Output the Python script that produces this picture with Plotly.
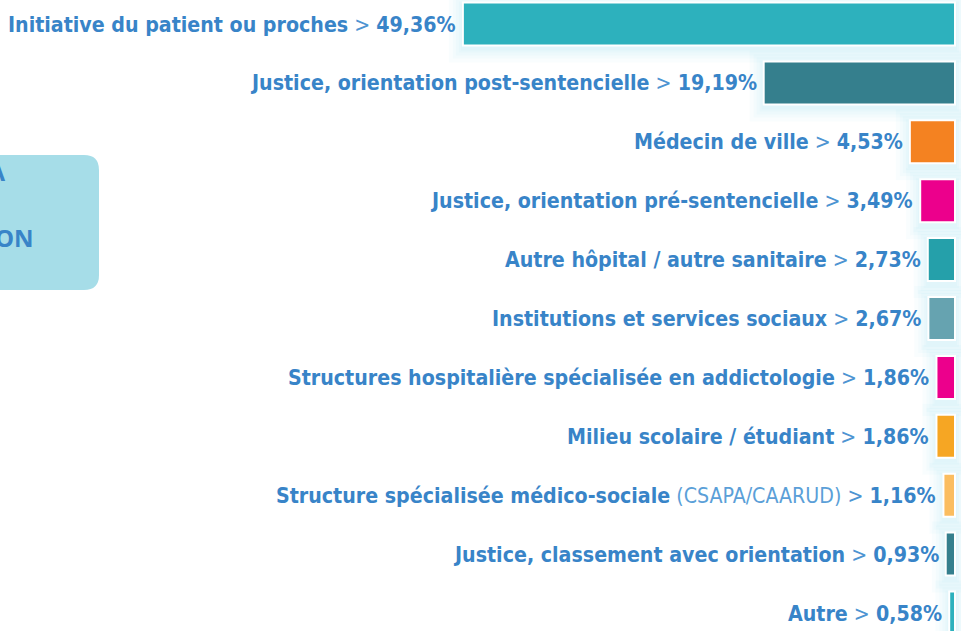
import plotly.graph_objects as go

categories = [
    "Initiative du patient ou proches",
    "Justice, orientation post-sentencielle",
    "Médecin de ville",
    "Justice, orientation pré-sentencielle",
    "Autre hôpital / autre sanitaire",
    "Institutions et services sociaux",
    "Structures hospitalière spécialisée en addictologie",
    "Milieu scolaire / étudiant",
    "Structure spécialisée médico-sociale",
    "Justice, classement avec orientation",
    "Autre",
]
notes = ["", "", "", "", "", "", "", "", "(CSAPA/CAARUD)", "", ""]
values = [49.36, 19.19, 4.53, 3.49, 2.73, 2.67, 1.86, 1.86, 1.16, 0.93, 0.58]
colors = ["#2db1bd", "#357f8d", "#f48221", "#ec008c", "#25a0aa", "#66a3b0",
          "#ec008c", "#f6a623", "#fbbd60", "#357f8d", "#2db1bd"]

W, H = 961, 631
PX_PER_UNIT = 9.97      # horizontal pixels per percent
ROW_PX = 58.9           # vertical pixels per category
BAR_W = 0.73
ZERO_PX = 955
TOP_PX = 24

x_range = [ZERO_PX / PX_PER_UNIT, -(W - ZERO_PX) / PX_PER_UNIT]
y_range = [(H - TOP_PX) / ROW_PX, -TOP_PX / ROW_PX]

TEXT = "#3884c8"
FONT = "'DejaVu Sans Condensed', 'Roboto Condensed', 'Liberation Sans Narrow', Roboto, sans-serif"

fig = go.Figure()

# soft cyan glow behind bars
for d in [14, 10, 7, 4, 2]:
    dx = d / PX_PER_UNIT
    dy = d / ROW_PX
    fig.add_trace(go.Bar(
        y=categories, x=[v + 2 * dx for v in values], base=-dx,
        orientation="h", width=BAR_W + 2 * dy,
        offset=-(BAR_W + 2 * dy) / 2 + 3 / ROW_PX,
        marker=dict(color="rgba(90,200,220,0.04)", line=dict(width=0)),
        hoverinfo="skip", showlegend=False,
    ))

fig.add_trace(go.Bar(
    y=categories, x=values, orientation="h", width=BAR_W,
    marker=dict(color=colors, line=dict(color="white", width=2)),
    showlegend=False,
))

annotations = []
for cat, note, v in zip(categories, notes, values):
    vs = f"{v:.2f}".replace(".", ",") + "%"
    txt = f"<b>{cat}</b>"
    if note:
        txt += f" <span style='font-weight:300;color:#5b9fd8'>{note}</span>"
    txt += f" <span style='color:#4d94d2'>&gt;</span> <b>{vs}</b>"
    annotations.append(dict(
        x=v, y=cat, xref="x", yref="y", text=txt, showarrow=False,
        xanchor="right", yanchor="middle", xshift=-5, yshift=0,
        font=dict(family=FONT, size=21.2, color=TEXT),
    ))

# partially visible side panel text
annotations.append(dict(x=8 / W, y=1 - 171 / H, xref="paper", yref="paper",
                        text="<b>LA</b>", showarrow=False, xanchor="right", yanchor="middle",
                        font=dict(family="Open Sans", size=24, color=TEXT)))
annotations.append(dict(x=36 / W, y=1 - 238 / H, xref="paper", yref="paper",
                        text="<b>ION</b>", showarrow=False, xanchor="right", yanchor="middle",
                        font=dict(family="Open Sans", size=24, color=TEXT)))


def px(x):
    return x / W


def py(y):
    return 1 - y / H


r = 15
x0, x1, y0, y1 = -40, 99, 155, 290
path = (f"M {px(x0)},{py(y0)} L {px(x1 - r)},{py(y0)} "
        f"Q {px(x1)},{py(y0)} {px(x1)},{py(y0 + r)} "
        f"L {px(x1)},{py(y1 - r)} Q {px(x1)},{py(y1)} {px(x1 - r)},{py(y1)} "
        f"L {px(x0)},{py(y1)} Z")

fig.update_layout(
    width=W, height=H,
    margin=dict(l=0, r=0, t=0, b=0),
    paper_bgcolor="white", plot_bgcolor="rgba(0,0,0,0)",
    barmode="overlay",
    xaxis=dict(range=x_range, visible=False, fixedrange=True),
    yaxis=dict(range=y_range, visible=False, type="category",
               categoryorder="array", categoryarray=categories),
    annotations=annotations,
    shapes=[dict(type="path", path=path, xref="paper", yref="paper",
                 fillcolor="#a6dde8", line=dict(width=0), layer="below")],
)

fig.write_html("out.html", config={"displayModeBar": False},
               post_script="document.body.style.margin='0';document.body.style.overflow='hidden';")
